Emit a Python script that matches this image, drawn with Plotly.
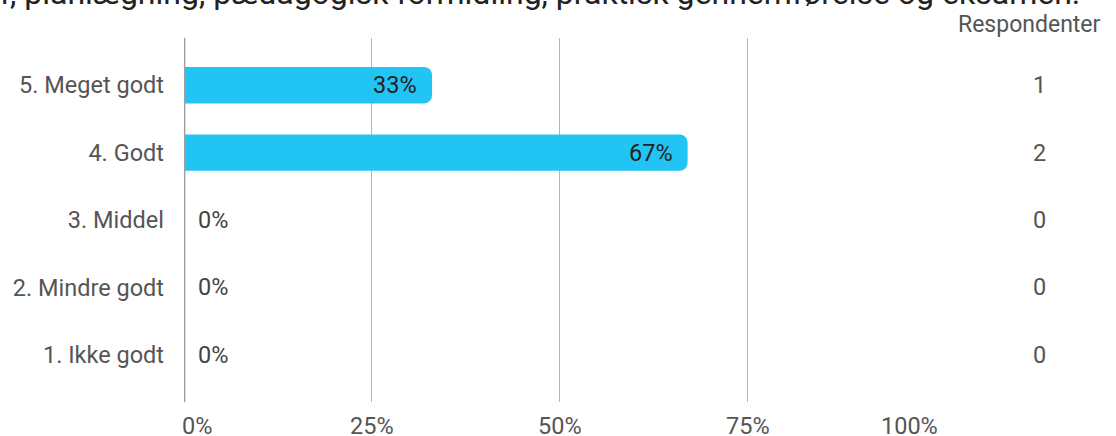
import plotly.graph_objects as go

categories = ["5. Meget godt", "4. Godt", "3. Middel", "2. Mindre godt", "1. Ikke godt"]
shares = [0.33, 0.67, 0.0, 0.0, 0.0]
pct_labels = ["33%", "67%", "0%", "0%", "0%"]
counts = [1, 2, 0, 0, 0]
tick_vals = [0, 0.25, 0.5, 0.75, 1.0]
tick_text = ["0%", "25%", "50%", "75%", "100%"]
title_text = ("Hvordan vurderer du kurset samlet i forhold til indhold, struktur, planlægning, "
              "pædagogisk formidling, praktisk gennemførelse og eksamen.")
count_header = "Respondenter"

FONT = "Roboto"
BAR = "#22C4F4"
FS = 23.5

fig = go.Figure()
fig.add_trace(go.Bar(
    x=shares, y=categories, orientation="h",
    marker=dict(color=BAR, cornerradius=8, line=dict(width=0)),
    hoverinfo="skip",
))

annotations = []
for cat, v, lab in zip(categories, shares, pct_labels):
    if v > 0:
        annotations.append(dict(x=v, y=cat, xref="x", yref="y", text=lab, showarrow=False,
                                xanchor="right", xshift=-13,
                                font=dict(family=FONT, size=FS, color="#222222")))
    else:
        annotations.append(dict(x=v, y=cat, xref="x", yref="y", text=lab, showarrow=False,
                                xanchor="left", xshift=12,
                                font=dict(family=FONT, size=FS, color="#444444")))
for cat, c in zip(categories, counts):
    annotations.append(dict(x=1.137, y=cat, xref="paper", yref="y", text=str(c), showarrow=False,
                            xanchor="center", font=dict(family=FONT, size=FS, color="#555555")))
# x tick labels (first/last kept inside the plot edges)
n_ticks = len(tick_vals)
for i, (tv, tt) in enumerate(zip(tick_vals, tick_text)):
    if i == 0:
        anchor, shift = "left", -4
    elif i == n_ticks - 1:
        anchor, shift = "right", 4
    else:
        anchor, shift = "center", 0
    annotations.append(dict(x=tv, y=-0.066, xref="x", yref="paper", text=tt, showarrow=False,
                            xanchor=anchor, xshift=shift, yanchor="middle",
                            font=dict(family=FONT, size=FS, color="#555555")))
annotations.append(dict(x=1.222, y=1.036, xref="paper", yref="paper", text=count_header,
                        showarrow=False, xanchor="right", yanchor="middle",
                        font=dict(family=FONT, size=23, color="#555555")))
annotations.append(dict(x=1.194, y=1.124, xref="paper", yref="paper", text=title_text,
                        showarrow=False, xanchor="right", yanchor="middle",
                        font=dict(family=FONT, size=32, color="#222222")))

fig.update_layout(
    width=1116, height=436,
    margin=dict(l=184, r=180, t=38, b=34, autoexpand=False),
    paper_bgcolor="white", plot_bgcolor="white",
    showlegend=False,
    bargap=0.46,
    annotations=annotations,
    font=dict(family=FONT),
    xaxis=dict(range=[0, 1.0005], tickvals=tick_vals, showticklabels=False,
               showgrid=True, gridcolor="#b5b5b5", gridwidth=1,
               zeroline=False, showline=False, ticks="", automargin=False,
               fixedrange=True),
    yaxis=dict(type="category", categoryorder="array", categoryarray=categories,
               range=[4.7, -0.7], showgrid=False, zeroline=False,
               showline=False, ticks="", automargin=False,
               tickfont=dict(family=FONT, size=FS, color="#555555"),
               ticklabelstandoff=19, fixedrange=True),
)
fig.add_vline(x=0, line=dict(color="#9e9e9e", width=2.7), layer="above")

fig.write_html("out.html", config={"displayModeBar": False},
               post_script="document.body.style.margin='0';")
